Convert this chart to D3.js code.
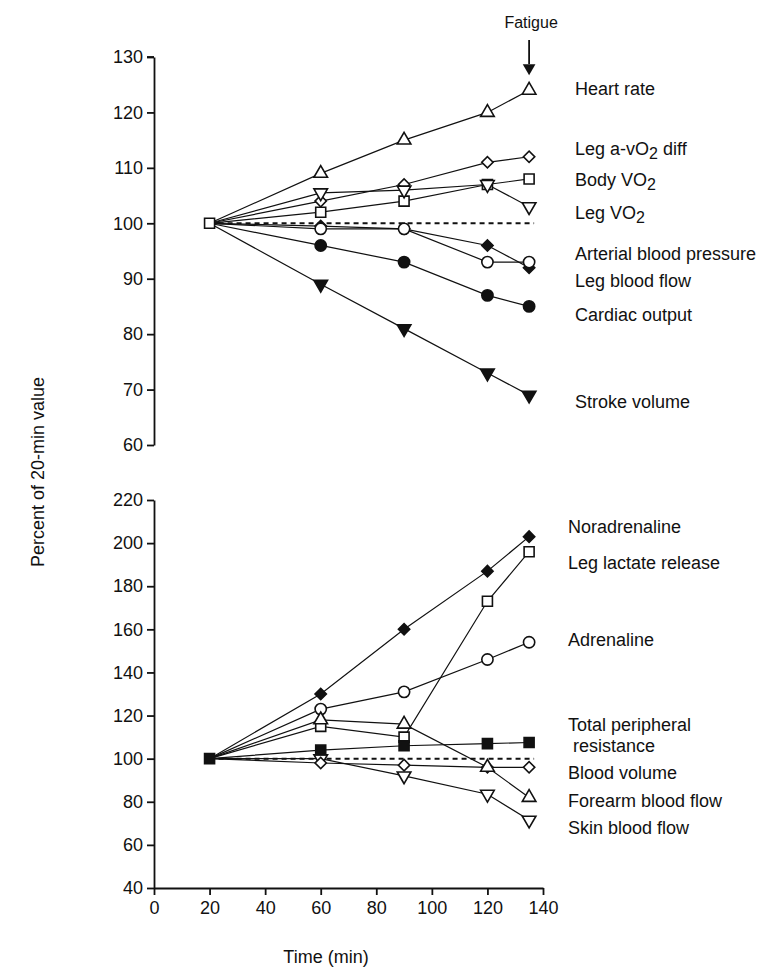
<!DOCTYPE html>
<html>
<head>
  <meta charset="utf-8">
  <title>Percent of 20-min value</title>
  <script src="https://cdn.jsdelivr.net/npm/d3@7"></script>
  <style>
    body { margin: 0; background: #fff; }
    svg text {
      font-family: 'Liberation Sans', Arial, sans-serif;
      font-size: 18px;
      fill: #111;
      white-space: pre;
    }
  </style>
</head>
<body>
  <svg id="chart" width="771" height="971"></svg>

  <script>
    // time points (min)
    var times = [20, 60, 90, 120, 135];

    // top panel series (% of 20-min value)
    var heartRate = [100, 109, 115, 120, 124];
    var legAvO2Diff = [100, 104, 107, 111, 112];
    var bodyVO2 = [100, 102, 104, 107, 108];
    var legVO2 = [100, 105.5, 106, 107, 103];
    var arterialBP = [100, 99.5, 99, 96, 92];
    var legBloodFlow = [100, 99, 99, 93, 93];
    var cardiacOutput = [100, 96, 93, 87, 85];
    var strokeVolume = [100, 89, 81, 73, 69];

    // bottom panel series
    var noradrenaline = [100, 130, 160, 187, 203];
    var legLactate = [100, 115, 110, 173, 196];
    var adrenaline = [100, 123, 131, 146, 154];
    var totalPR = [100, 104, 106, 107, 107.5];
    var bloodVolume = [100, 98, 97, 96, 96];
    var forearmBF = [100, 118, 116, 96, 82];
    var skinBF = [100, 100, 92, 83.5, 71.5];

    // axis ticks
    var xTicks = [0, 20, 40, 60, 80, 100, 120, 140];
    var topTicks = [60, 70, 80, 90, 100, 110, 120, 130];
    var bottomTicks = [40, 60, 80, 100, 120, 140, 160, 180, 200, 220];

    // labels: text ('|' marks a subscript) and the value at the label baseline
    var topLabels = [
      ['Heart rate', 123.1],
      ['Leg a-vO|2| diff', 112.3],
      ['Body VO|2', 106.7],
      ['Leg VO|2', 100.8],
      ['Arterial blood pressure', 93.4],
      ['Leg blood flow', 88.5],
      ['Cardiac output', 82.4],
      ['Stroke volume', 66.7]
    ];
    var bottomLabels = [
      ['Noradrenaline', 204.7],
      ['Leg lactate release', 188],
      ['Adrenaline', 152.3],
      ['Total peripheral', 112.8],
      [' resistance', 103.1],
      ['Blood volume', 90.6],
      ['Forearm blood flow', 77.6],
      ['Skin blood flow', 65]
    ];

    var topSeries = [
      { v: heartRate, m: 'triUp', fill: false },
      { v: legAvO2Diff, m: 'diamond', fill: false },
      { v: bodyVO2, m: 'square', fill: false, first: true },
      { v: legVO2, m: 'triDown', fill: false },
      { v: arterialBP, m: 'diamond', fill: true },
      { v: legBloodFlow, m: 'circle', fill: false },
      { v: cardiacOutput, m: 'circle', fill: true },
      { v: strokeVolume, m: 'triDown', fill: true }
    ];
    var bottomSeries = [
      { v: noradrenaline, m: 'diamond', fill: true },
      { v: adrenaline, m: 'circle', fill: false },
      { v: skinBF, m: 'triDown', fill: false },
      { v: bloodVolume, m: 'diamond', fill: false },
      { v: legLactate, m: 'square', fill: false },
      { v: forearmBF, m: 'triUp', fill: false },
      { v: totalPR, m: 'square', fill: true, first: true }
    ];

    var svg = d3.select('#chart');

    var x = d3.scaleLinear().domain([0, 140]).range([154, 543]);
    var yTop = d3.scaleLinear().domain([60, 130]).range([445, 57]);
    var yBot = d3.scaleLinear().domain([40, 220]).range([888, 500]);

    var symbols = {
      triUp: d3.symbol().type(d3.symbolTriangle).size(80),
      triDown: d3.symbol().type(d3.symbolTriangle).size(80),
      diamond: d3.symbol().type(d3.symbolSquare).size(64),
      square: d3.symbol().type(d3.symbolSquare).size(100),
      circle: d3.symbol().type(d3.symbolCircle).size(100)
    };

    function drawPanel(y, ticks, series, labels, labelX) {
      var g = svg.append('g');

      var ax = g.append('g')
        .attr('transform', 'translate(' + x(0) + ',0)')
        .call(d3.axisLeft(y).tickValues(ticks).tickSize(7).tickSizeOuter(0).tickPadding(4));
      ax.select('.domain').attr('stroke', '#111').attr('stroke-width', 1.8);
      ax.selectAll('.tick line').attr('stroke', '#111').attr('stroke-width', 1.8);
      ax.selectAll('.tick text').style('font-size', '18px');

      // reference line at 100 %
      g.append('line')
        .attr('x1', x(20)).attr('x2', x(135) + 5)
        .attr('y1', y(100)).attr('y2', y(100))
        .attr('stroke', '#111')
        .attr('stroke-width', 2)
        .attr('stroke-dasharray', '5,4');

      var line = d3.line()
        .x((d, i) => x(times[i]))
        .y(d => y(d));

      series.forEach(s => {
        g.append('path')
          .datum(s.v)
          .attr('fill', 'none')
          .attr('stroke', '#111')
          .attr('stroke-width', 1.2)
          .attr('d', line);
      });

      series.forEach(s => {
        var pts = s.v.map((d, i) => [times[i], d]).filter((d, i) => i > 0 || s.first);
        g.selectAll(null)
          .data(pts)
          .enter().append('path')
          .attr('d', symbols[s.m])
          .attr('transform', d => 'translate(' + x(d[0]) + ',' + y(d[1]) + ')' +
            (s.m === 'triDown' ? ' rotate(180)' : '') +
            (s.m === 'diamond' ? ' rotate(45)' : ''))
          .attr('fill', s.fill ? '#111' : '#fff')
          .attr('stroke', '#111')
          .attr('stroke-width', 1.6);
      });

      labels.forEach(l => {
        var parts = l[0].split('|');
        var t = g.append('text')
          .attr('x', labelX)
          .attr('y', y(l[1]));
        t.append('tspan').text(parts[0]);
        if (parts.length > 1) {
          t.append('tspan').attr('dy', 4).style('font-size', '16px').text(parts[1]);
          if (parts[2]) t.append('tspan').attr('dy', -4).text(parts[2]);
        }
      });
      return g;
    }

    drawPanel(yTop, topTicks, topSeries, topLabels, x(140) + 32);
    var gb = drawPanel(yBot, bottomTicks, bottomSeries, bottomLabels, x(140) + 25);

    // x axis on bottom panel
    var xa = gb.append('g')
      .attr('transform', 'translate(0,' + yBot(40) + ')')
      .call(d3.axisBottom(x).tickValues(xTicks).tickSize(7).tickSizeOuter(0).tickPadding(6));
    xa.select('.domain').attr('stroke', '#111').attr('stroke-width', 1.8);
    xa.selectAll('.tick line').attr('stroke', '#111').attr('stroke-width', 1.8);
    xa.selectAll('.tick text').style('font-size', '18px');

    // top cap tick on top panel
    svg.append('line')
      .attr('x1', x(0) - 7).attr('x2', x(0))
      .attr('y1', yTop(130)).attr('y2', yTop(130))
      .attr('stroke', '#111').attr('stroke-width', 1.8);

    // fatigue marker
    svg.append('text')
      .attr('x', x(135) + 2)
      .attr('y', 28)
      .attr('text-anchor', 'middle')
      .style('font-size', '16px')
      .text('Fatigue');
    svg.append('line')
      .attr('x1', x(135)).attr('x2', x(135))
      .attr('y1', 40).attr('y2', 64)
      .attr('stroke', '#111').attr('stroke-width', 1.8);
    svg.append('path')
      .attr('d', d3.symbol().type(d3.symbolTriangle).size(70))
      .attr('transform', 'translate(' + x(135) + ',68) rotate(180)')
      .attr('fill', '#111');

    // axis titles
    svg.append('text')
      .attr('transform', 'translate(44,472) rotate(-90)')
      .attr('text-anchor', 'middle')
      .text('Percent of 20-min value');
    svg.append('text')
      .attr('x', 326)
      .attr('y', 963)
      .attr('text-anchor', 'middle')
      .text('Time (min)');
  </script>
</body>
</html>
